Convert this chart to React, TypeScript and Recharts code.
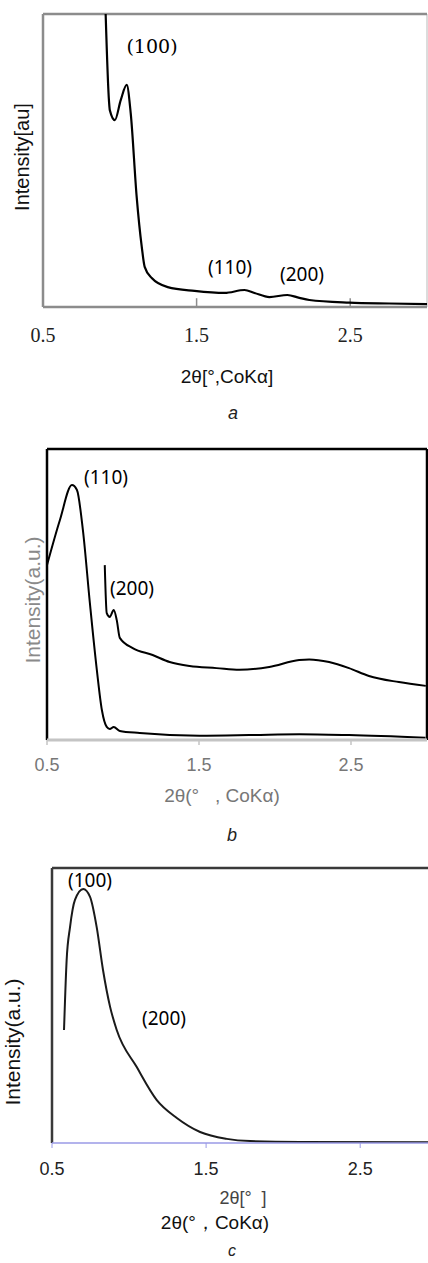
import React from 'react';
import { LineChart, Line, XAxis, YAxis, ReferenceLine } from 'recharts';

// panel a : 2θ and intensity
const aTheta = [0.905, 0.93, 0.935, 0.968, 1.006, 1.045, 1.071, 1.11, 1.143, 1.162, 1.208, 1.312, 1.487, 1.682, 1.812, 1.877, 1.974, 2.091, 2.169, 2.234, 2.494, 2.753, 3.0];
const aIntensity = [105, 70, 67.2, 63.8, 70.6, 75.8, 66.2, 37.5, 20.5, 13.7, 9.9, 6.8, 5.5, 4.8, 5.8, 4.8, 3.4, 4.1, 3.1, 2.4, 1.5, 1.2, 1.0];

// panel b : lower (full) pattern and upper (magnified) pattern
const bLowTheta = [0.5, 0.585, 0.664, 0.697, 0.736, 0.782, 0.828, 0.861, 0.893, 0.913, 0.939, 0.979, 1.11, 1.503, 1.83, 2.16, 2.487, 2.99];
const bLowIntensity = [60.1, 75.6, 87.6, 85.9, 72.2, 47.1, 24, 10.3, 4.5, 3.8, 4.5, 3.1, 2.4, 1.5, 1.7, 2.0, 1.7, 0.8];
const bHighTheta = [0.88, 0.893, 0.913, 0.939, 0.959, 0.979, 1.064, 1.195, 1.307, 1.438, 1.615, 1.766, 1.962, 2.159, 2.225, 2.356, 2.487, 2.618, 2.815, 2.992];
const bHighIntensity = [60.1, 43.6, 42.3, 44.7, 41.2, 35.1, 31.6, 29.2, 26.8, 25.4, 24.7, 24.1, 25.1, 27.5, 27.7, 26.8, 24.7, 22.0, 19.9, 18.6];

// panel c
const cTheta = [0.578, 0.595, 0.617, 0.649, 0.703, 0.747, 0.79, 0.831, 0.877, 0.92, 1.05, 1.18, 1.31, 1.461, 1.634, 1.786, 2.11, 2.94];
const cIntensity = [41.1, 66.5, 78.5, 88.4, 92.4, 89.5, 78.5, 62.9, 49.5, 41.1, 27.6, 15.6, 9.1, 4.0, 1.5, 0.7, 0.4, 0.3];

const ticks = [0.5, 1.5, 2.5];

const zip = (xs: number[], ys: number[]) => xs.map((x, i) => ({ x, y: ys[i] }));

const sans = '"Liberation Sans", Arial, sans-serif';
const calibri = '"Noto Sans", sans-serif';

// tick text with a css font so the family really applies
const makeTick = (font: string, size: number, color: string, dy: number) => (props: any) => {
  const { x, y, payload } = props;
  return (
    <text x={x} y={y + dy} textAnchor="middle" style={{ fontFamily: font, fontSize: size, fill: color }}>
      {payload.value}
    </text>
  );
};

function Txt({ x, y, children, style }: { x: number; y: number; children: React.ReactNode; style?: React.CSSProperties }) {
  return (
    <div
      style={{
        position: 'absolute',
        left: x,
        top: y,
        transform: 'translate(-50%, -50%)',
        whiteSpace: 'pre',
        lineHeight: 1,
        fontFamily: sans,
        ...style,
      }}
    >
      {children}
    </div>
  );
}

function VLabel({ x, y, text, size, color }: { x: number; y: number; text: string; size: number; color: string }) {
  return (
    <div
      style={{
        position: 'absolute',
        left: x,
        top: y,
        transform: 'translate(-50%, -50%) rotate(-90deg)',
        whiteSpace: 'pre',
        lineHeight: 1,
        fontFamily: sans,
        fontSize: size,
        color,
      }}
    >
      {text}
    </div>
  );
}

export default function App() {
  const aData = zip(aTheta, aIntensity);
  const bLow = zip(bLowTheta, bLowIntensity);
  const bHigh = zip(bHighTheta, bHighIntensity);
  const cData = zip(cTheta, cIntensity);

  return (
    <div style={{ position: 'absolute', left: 0, top: 0, width: 428, height: 1263, background: '#fff', overflow: 'hidden' }}>
      {/* ---------- a ---------- */}
      <div style={{ position: 'absolute', left: 0, top: 0 }}>
        <LineChart width={428} height={347} margin={{ top: 14, right: 1, bottom: 0, left: 43 }}>
          <XAxis
            type="number"
            dataKey="x"
            domain={[0.5, 3]}
            ticks={ticks}
            allowDataOverflow
            height={40}
            tickSize={0}
            tickLine={false}
            axisLine={{ stroke: '#8c8c8c', strokeWidth: 2.5 }}
            tick={makeTick('"Liberation Serif", serif', 20, '#222', 33)}
          />
          <YAxis type="number" domain={[0, 100]} allowDataOverflow width={0} hide />
          <ReferenceLine x={0.5} stroke="#8c8c8c" strokeWidth={2.5} />
          <ReferenceLine x={3} stroke="#d0d0d0" strokeWidth={1.5} />
          <ReferenceLine y={100} stroke="#8c8c8c" strokeWidth={2.5} />
          <ReferenceLine segment={[{ x: 1.5, y: 0 }, { x: 1.5, y: 3 }]} stroke="#8c8c8c" strokeWidth={1.5} />
          <ReferenceLine segment={[{ x: 2.5, y: 0 }, { x: 2.5, y: 3 }]} stroke="#8c8c8c" strokeWidth={1.5} />
          <Line data={aData} dataKey="y" type="monotone" stroke="#000" strokeWidth={2.2} dot={false} isAnimationActive={false} />
        </LineChart>
      </div>
      <VLabel x={22} y={157} text="Intensity[au]" size={20} color="#111" />
      <Txt x={152} y={46} style={{ fontFamily: '"DejaVu Serif", serif', fontSize: 19 }}>(100)</Txt>
      <Txt x={230} y={267} style={{ fontFamily: calibri, fontSize: 19 }}>(110)</Txt>
      <Txt x={302} y={274} style={{ fontFamily: calibri, fontSize: 19 }}>(200)</Txt>
      <Txt x={227} y={376} style={{ fontSize: 19, color: '#111' }}>2θ[°,CoKα]</Txt>
      <Txt x={233} y={413} style={{ fontSize: 18, fontStyle: 'italic', color: '#222' }}>a</Txt>

      {/* ---------- b ---------- */}
      <div style={{ position: 'absolute', left: 0, top: 430 }}>
        <LineChart width={428} height={350} margin={{ top: 19, right: 1, bottom: 0, left: 47 }}>
          <XAxis
            type="number"
            dataKey="x"
            domain={[0.5, 3]}
            ticks={ticks}
            allowDataOverflow
            height={40}
            tickSize={5}
            tickLine={{ stroke: '#c4c4c4', strokeWidth: 1.5 }}
            axisLine={{ stroke: '#c4c4c4', strokeWidth: 3 }}
            tick={makeTick(sans, 18, '#777', 24)}
          />
          <YAxis type="number" domain={[0, 100]} allowDataOverflow width={0} hide />
          <ReferenceLine x={0.5} stroke="#000" strokeWidth={2.5} />
          <ReferenceLine y={100} stroke="#000" strokeWidth={2.5} />
          <ReferenceLine x={3} stroke="#000" strokeWidth={2.5} />
          <Line data={bLow} dataKey="y" type="monotone" stroke="#000" strokeWidth={2} dot={false} isAnimationActive={false} />
          <Line data={bHigh} dataKey="y" type="monotone" stroke="#000" strokeWidth={2} dot={false} isAnimationActive={false} />
        </LineChart>
      </div>
      <VLabel x={32} y={600} text="Intensity(a.u.)" size={21} color="#8a8a8a" />
      <Txt x={106} y={477} style={{ fontFamily: calibri, fontSize: 19 }}>(110)</Txt>
      <Txt x={132} y={588} style={{ fontFamily: calibri, fontSize: 19 }}>(200)</Txt>
      <Txt x={222} y={795} style={{ fontSize: 19, color: '#777' }}>{'2θ(°   , CoKα)'}</Txt>
      <Txt x={232} y={835} style={{ fontSize: 18, fontStyle: 'italic', color: '#222' }}>b</Txt>

      {/* ---------- c ---------- */}
      <div style={{ position: 'absolute', left: 0, top: 850 }}>
        <LineChart width={428} height={333} margin={{ top: 18, right: 0, bottom: 0, left: 52 }}>
          <XAxis
            type="number"
            dataKey="x"
            domain={[0.5, 2.94]}
            ticks={ticks}
            allowDataOverflow
            height={40}
            tickSize={5}
            tickLine={{ stroke: '#9a9ae6', strokeWidth: 1 }}
            axisLine={{ stroke: '#9a9ae6', strokeWidth: 1.5 }}
            tick={makeTick(sans, 18, '#222', 25)}
          />
          <YAxis type="number" domain={[0, 100]} allowDataOverflow width={0} hide />
          <ReferenceLine x={0.5} stroke="#3a3a3a" strokeWidth={2.5} />
          <ReferenceLine y={100} stroke="#3a3a3a" strokeWidth={2.5} />
          <Line data={cData} dataKey="y" type="monotone" stroke="#1a1a1a" strokeWidth={2} dot={false} isAnimationActive={false} />
        </LineChart>
      </div>
      <VLabel x={12} y={1042} text="Intensity(a.u.)" size={21} color="#111" />
      <Txt x={90} y={880} style={{ fontFamily: calibri, fontSize: 19 }}>(100)</Txt>
      <Txt x={164} y={1018} style={{ fontFamily: calibri, fontSize: 19 }}>(200)</Txt>
      <Txt x={243} y={1198} style={{ fontSize: 18, color: '#444' }}>{'2θ[°  ]'}</Txt>
      <Txt x={215} y={1222} style={{ fontSize: 19, color: '#111' }}>2θ(°，CoKα)</Txt>
      <Txt x={232} y={1251} style={{ fontSize: 16, fontStyle: 'italic', color: '#222' }}>c</Txt>
    </div>
  );
}
